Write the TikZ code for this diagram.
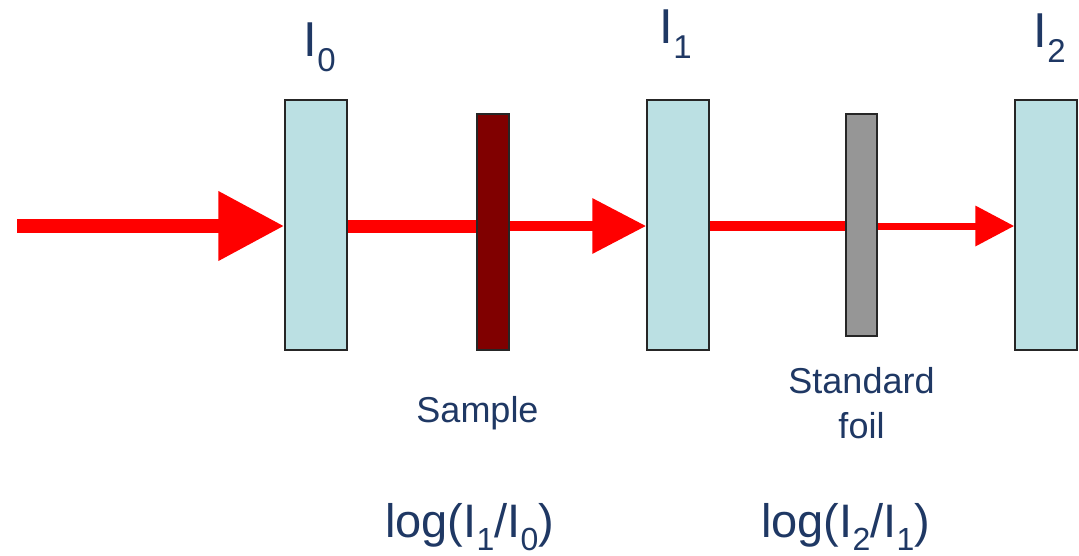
\documentclass[tikz,border=0pt]{standalone}
\usepackage{fontspec}
\setmainfont{Liberation Sans}
\usetikzlibrary{arrows.meta}
\definecolor{detfill}{HTML}{BBE0E3}
\definecolor{samplefill}{HTML}{800000}
\definecolor{foilfill}{HTML}{969696}
\definecolor{txt}{HTML}{1F3864}
\definecolor{beam}{HTML}{FF0000}
\newcommand{\bigI}[1]{I\raisebox{-15pt}{\fontsize{33}{33}\selectfont #1}}
\newcommand{\logI}[1]{I\raisebox{-13pt}{\fontsize{32}{32}\selectfont #1}}
\pgfdeclarelayer{bg}
\pgfsetlayers{bg,main}
\tikzset{
  detector/.style={draw=black!85, line width=1.5pt, fill=detfill, inner sep=0pt,
    minimum width=62pt, minimum height=250pt},
  plate/.style={draw=black!85, line width=1.5pt, inner sep=0pt, minimum width=32pt},
  lbl/.style={inner sep=0pt, text=txt, font=\fontsize{49}{49}\selectfont},
  small/.style={inner sep=0pt, text=txt, font=\fontsize{36}{45}\selectfont, align=center},
  logl/.style={inner sep=0pt, text=txt, font=\fontsize{47}{47}\selectfont},
  beamline/.style={draw=beam, line cap=butt},
}
\begin{document}
\begin{tikzpicture}[x=1pt, y=-1pt]
\useasboundingbox (0,0) rectangle (1079,555);
\node[detector] (d0) at (316,225) {};
\node[plate, fill=samplefill, minimum height=236pt] (sample) at (493,232) {};
\node[detector] (d1) at (678,225) {};
\node[plate, fill=foilfill, minimum width=31pt, minimum height=222pt] (foil) at (861.5,225) {};
\node[detector] (d2) at (1046,225) {};
\coordinate (src) at (17,226);

\begin{pgfonlayer}{bg}
\draw[beamline, line width=14pt, -{Triangle[length=66pt, width=66pt]}] (src) -- (src -| d0.west);
\draw[beamline, line width=13pt] (d0.east |- src) -- (sample.west |- src);
\draw[beamline, line width=10pt, -{Triangle[length=54pt, width=53pt]}] (sample.east |- src) -- (d1.west |- src);
\draw[beamline, line width=10pt] (d1.east |- src) -- (foil.west |- src);
\draw[beamline, line width=7pt, -{Triangle[length=39pt, width=39pt]}] (foil.east |- src) -- (d2.west |- src);
\end{pgfonlayer}

\node[lbl, anchor=base west] (l0) at (303.5,56) {\bigI{0}};
\node[lbl, anchor=base west] (l1) at (659.5,43) {\bigI{1}};
\node[lbl, anchor=base west] (l2) at (1033.5,47) {\bigI{2}};

\node[small, anchor=base] (samplelbl) at (477.5,422) {Sample};
\node[small, anchor=north] (foillbl) at (861.5,367.5) {Standard\\foil};

\node[logl, anchor=base west] (log1) at (385,537) {log(\logI{1}/\logI{0})};
\node[logl, anchor=base west] (log2) at (761,537) {log(\logI{2}/\logI{1})};
\end{tikzpicture}
\end{document}
